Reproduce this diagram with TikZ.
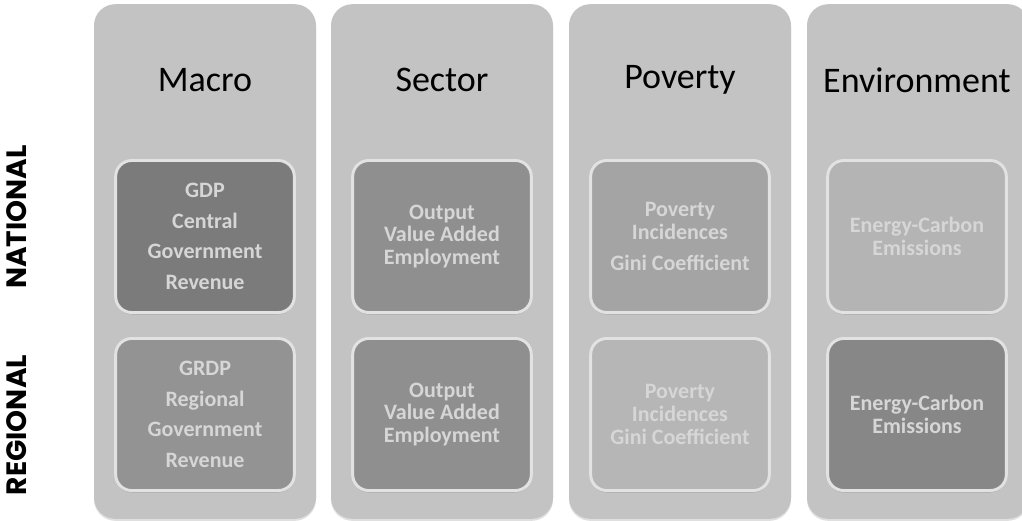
\documentclass[tikz,border=0pt]{standalone}
\usepackage{fontspec}
\setmainfont{Carlito}
\newfontfamily\sidefont{Poppins}
\usetikzlibrary{shadows}

\definecolor{colgray}{HTML}{C3C3C3}
\definecolor{rimgray}{HTML}{E2E2E2}
\definecolor{txtgray}{HTML}{D6D6D6}
\definecolor{boxA}{HTML}{7B7B7B}
\definecolor{boxB}{HTML}{939393}
\definecolor{boxC}{HTML}{8F8F8F}
\definecolor{boxD}{HTML}{A4A4A4}
\definecolor{boxE}{HTML}{B6B6B6}
\definecolor{boxF}{HTML}{B4B4B4}
\definecolor{boxG}{HTML}{878787}

\tikzset{
  column/.style={rounded corners=16pt, fill=colgray, minimum width=166.5pt,
    minimum height=386pt, drop shadow={shadow xshift=0pt, shadow yshift=-1.5pt, opacity=0.25}},
  title/.style={font=\fontsize{27}{30}\selectfont, text=black},
  measure/.style={rounded corners=12pt, draw=rimgray, line width=2.2pt,
    minimum width=134pt, minimum height=114pt, align=center, text=txtgray,
    font=\bfseries\fontsize{16.5}{17}\selectfont,
    drop shadow={shadow xshift=0pt, shadow yshift=-1.5pt, opacity=0.35}},
  level/.style={rotate=90, font=\sidefont\bfseries\fontsize{21}{24}\selectfont}
}

\begin{document}
\begin{tikzpicture}[x=0.75pt, y=-0.75pt]
  \useasboundingbox (0,0) rectangle (1022,521);

  % Columns
  \node[column] (macro) at (205,261.5) {};
  \node[column] (sector) at (442,261.5) {};
  \node[column] (poverty) at (680,261.5) {};
  \node[column] (environ) at (918,261.5) {};

  % Column titles
  \node[title] (macrotitle) at (205,80) {Macro};
  \node[title] (sectortitle) at (442,80) {Sector};
  \node[title] (povertytitle) at (680,80) {Poverty};
  \node[title] (environtitle) at (917,80) {Environment};

  % National level
  \node[measure, fill=boxA, font=\bfseries\fontsize{16.5}{23}\selectfont] (macronat) at (205,236.5)
    {GDP\\Central\\Government\\Revenue};
  \node[measure, fill=boxC] (sectornat) at (442,236.5) {Output\\Value Added\\Employment};
  \node[measure, fill=boxD] (povertynat) at (680,236.5) {Poverty\\Incidences\\[6pt]Gini Coefficient};
  \node[measure, fill=boxF] (environnat) at (917,236.5) {Energy-Carbon\\Emissions};

  % Regional level
  \node[measure, fill=boxB, font=\bfseries\fontsize{16.5}{23}\selectfont] (macroreg) at (205,414.5)
    {GRDP\\Regional\\Government\\Revenue};
  \node[measure, fill=boxC] (sectorreg) at (442,414.5) {Output\\Value Added\\Employment};
  \node[measure, fill=boxE] (povertyreg) at (680,414.5) {Poverty\\Incidences\\Gini Coefficient};
  \node[measure, fill=boxG] (environreg) at (917,414.5) {Energy-Carbon\\Emissions};

  % Side labels
  \node[level] (national) at (17,217) {NATIONAL};
  \node[level] (regional) at (17,425) {REGIONAL};
\end{tikzpicture}
\end{document}
